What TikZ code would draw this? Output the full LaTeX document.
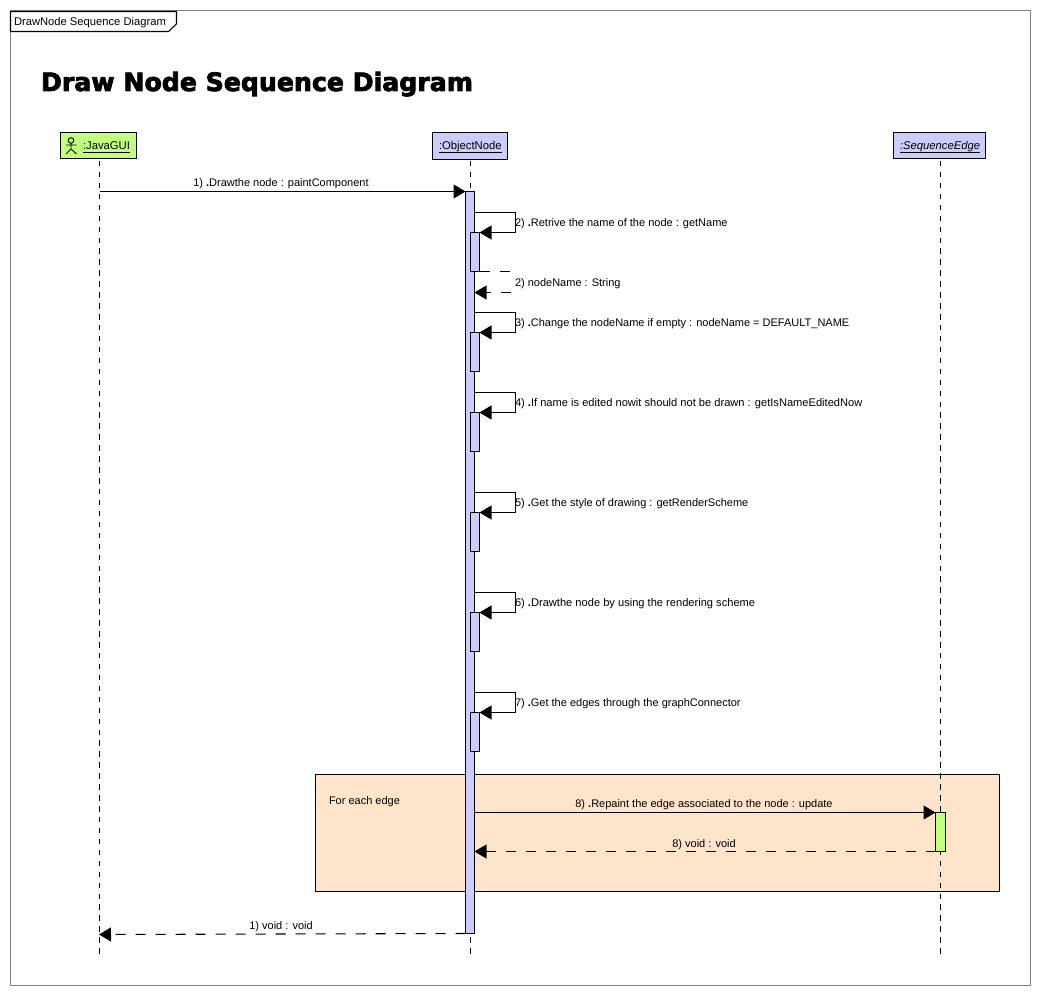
\documentclass[tikz,border=0pt]{standalone}
\usepackage{fontspec}
\setmainfont{Liberation Sans}
\newfontfamily\titlefont[FakeBold=3]{DejaVu Sans Bold}
\usetikzlibrary{arrows.meta,calc}
\definecolor{actgreen}{HTML}{C0FF80}
\definecolor{objblue}{HTML}{CCCCFF}
\definecolor{noteorange}{HTML}{FFE4CC}
\newcommand{\pxbox}[7][]{%
  \pgfmathsetmacro{\pxw}{(#4-#2)*0.75}\pgfmathsetmacro{\pxh}{(#5-#3)*0.75}%
  \node[#6,minimum width=\pxw pt,minimum height=\pxh pt,#1] (#7) at ({(#2+#4)/2},{(#3+#5)/2}) {};}
\newcommand{\dotb}{{\bfseries .}}
\tikzset{
  x=0.75pt,y=-0.75pt,
  every node/.style={inner sep=0pt,outer sep=0pt,font=\fontsize{8.25}{10}\selectfont},
  boxa/.style={draw=black,line width=0.8pt,fill=actgreen},
  boxb/.style={draw=black,line width=0.8pt,fill=objblue},
  plainbox/.style={draw=black,line width=0.8pt,fill=noteorange},
  lifeline/.style={line width=0.8pt,dash pattern=on 4.1pt off 4.1pt},
  msg/.style={line width=0.8pt,-{Triangle[length=9pt,width=10.5pt]}},
  ret/.style={line width=0.8pt,dash pattern=on 7.5pt off 7.5pt,-{Triangle[length=9pt,width=10.5pt]}},
  retplain/.style={line width=0.8pt,dash pattern=on 7.5pt off 7.5pt},
  lbl/.style={anchor=base west,text=black},
  headlbl/.style={anchor=base west,text=black,font=\fontsize{8.45}{10}\selectfont},
  clbl/.style={anchor=base,text=black},
}
\begin{document}
\begin{tikzpicture}
\useasboundingbox (0,0) rectangle (1040,995);
\fill[white] (0,0) rectangle (1040,995);
% frame
\draw[draw=black!50,line width=1pt] (10.5,10.5) rectangle (1030.5,985.5);
\draw[fill=white,line width=0.8pt] (10.5,11.5) -- (176.5,11.5) -- (176.5,24) -- (168.5,31.5) -- (10.5,31.5) -- cycle;
\node[lbl,font=\fontsize{8.4}{10}\selectfont] (tag) at (14,26) {DrawNode Sequence Diagram};
\node[lbl,font=\titlefont\fontsize{18.9}{24}\selectfont] (title) at (41,91) {Draw Node Sequence Diagram};
% combined fragment
\pxbox{315.5}{774.5}{999.5}{891.5}{plainbox}{loopbox}
\node[lbl] (looplbl) at (329,804) {For each edge};
% lifeline heads
\pxbox{60.5}{132.5}{136.5}{158.5}{boxa}{gui}
\pxbox{432.5}{132.5}{507.5}{159.5}{boxb}{obj}
\pxbox{893.5}{132.5}{985.5}{158.5}{boxb}{edge}
\node[headlbl] (guilbl) at (83,150) {\underline{\smash{:JavaGUI}}};
\node[headlbl] (objlbl) at (439,150) {\underline{\smash{:ObjectNode}}};
\node[headlbl] (edgelbl) at (900,150) {\underline{\smash{\itshape :SequenceEdge}}};
% actor icon
\draw[line width=0.7pt] (71,140.5) circle[radius=2.8];
\draw[line width=0.7pt] (71,143.3) -- (71,149) (66,145) -- (76.5,145) (66,154) -- (71,149) -- (76.5,154);
% lifeline ends
\coordinate (guiend) at (99.5,955);
\coordinate (objend) at (470.5,955);
\coordinate (edgeend) at (940.5,955);
\coordinate (guitop) at (99.5,161);
\coordinate (objtop) at (470.5,161);
\coordinate (edgetop) at (940.5,161);
\draw[lifeline] (guitop) -- (guiend);
\draw[lifeline] (objtop) -- (objend);
\draw[lifeline] (edgetop) -- (edgeend);
% activations
\pxbox{465.5}{191.5}{474.5}{933.5}{boxb}{main}
\pxbox{470.5}{232.5}{479.5}{271.5}{boxb}{actb}
\pxbox{470.5}{332.5}{479.5}{371.5}{boxb}{actc}
\pxbox{470.5}{412.5}{479.5}{451.5}{boxb}{actd}
\pxbox{470.5}{512.5}{479.5}{551.5}{boxb}{acte}
\pxbox{470.5}{612.5}{479.5}{651.5}{boxb}{actf}
\pxbox{470.5}{712.5}{479.5}{751.5}{boxb}{actg}
\pxbox{935.5}{812.5}{945.5}{851.5}{boxa}{acth}
% message 1
\coordinate (guim) at (99.5,191.5);
\draw[msg] (guim) -- (main.north west);
\node[clbl] (lb1) at (281,186.5) {1) \dotb Drawthe node : paintComponent};
% self messages
\foreach \n/\y in {b/212.5,c/312.5,d/392.5,e/492.5,f/592.5,g/692.5}{
  \coordinate (s\n) at (474.5,\y);
  \coordinate (t\n) at (515.5,\y);
  \draw[msg] (s\n) -- (t\n) -- (t\n |- act\n.north) -- (act\n.north east);
}
% return 2
\coordinate (rb) at (510.5,271.5);
\coordinate (rc) at (510.5,292.5);
\coordinate (rd) at (474.5,292.5);
\draw[retplain] (actb.south east) -- (rb);
\draw[ret] (rc) -- (rd);
\node[lbl] (lb2) at (515,226.5) {2) \dotb Retrive the name of the node : getName};
\node[lbl] (lb2r) at (515,286.5) {2) nodeName : String};
\node[lbl] (lb3) at (515,326.5) {3) \dotb Change the nodeName if empty : nodeName = DEFAULT\_NAME};
\node[lbl,font=\fontsize{8.33}{10}\selectfont] (lb4) at (515,406.5) {4) \dotb If name is edited nowit should not be drawn : getIsNameEditedNow};
\node[lbl] (lb5) at (515,506.5) {5) \dotb Get the style of drawing : getRenderScheme};
\node[lbl,font=\fontsize{8.33}{10}\selectfont] (lb6) at (515,606.5) {6) \dotb Drawthe node by using the rendering scheme};
\node[lbl] (lb7) at (515,706.5) {7) \dotb Get the edges through the graphConnector};
% message 8
\coordinate (m8) at (474.5,812.5);
\draw[msg] (m8) -- (acth.north west);
\coordinate (r8) at (474.5,851.5);
\draw[ret] (acth.south west) -- (r8);
\node[clbl] (lb8) at (704,807.5) {8) \dotb Repaint the edge associated to the node : update};
\node[clbl] (lb8r) at (704,847.5) {8) void : void};
% final return
\coordinate (guir) at (99,934.5);
\draw[ret] (main.south west) -- (guir);
\node[clbl] (lb1r) at (281,929.5) {1) void : void};
\end{tikzpicture}
\end{document}
